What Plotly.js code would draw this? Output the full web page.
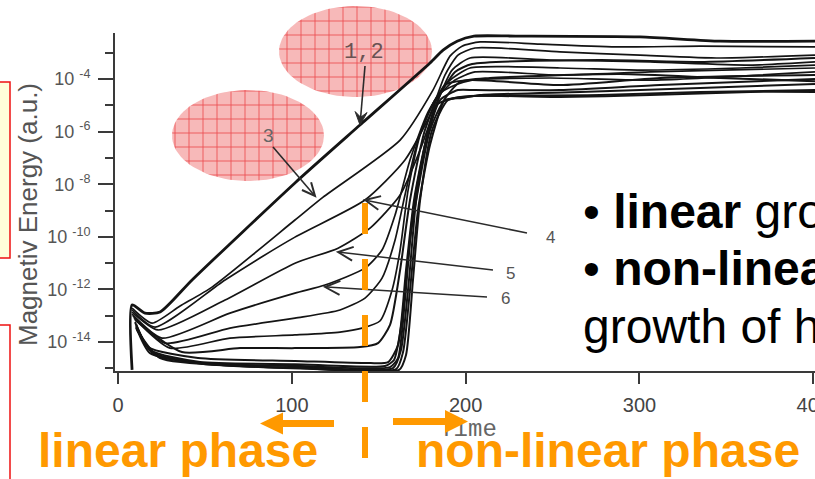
<!DOCTYPE html>
<html><head><meta charset="utf-8">
<script src="https://cdn.plot.ly/plotly-3.0.1.min.js"></script>
<style>html,body{margin:0;padding:0;background:#fff;overflow:hidden}#chart{width:815px;height:479px}</style>
</head><body><div id="chart"></div>
<script>
// ---------- DATA (time, log10 of magnetic energy) ----------
const seriesNames = ['1,2','3','4','5','6','7','8','9','10','11','12','13','14','15'];
const time01 = [8.1, 8.1, 15.5, 24.2, 42.6, 101.8, 139.2, 179.5, 187.0, 195.1, 204.8, 231.3, 300.3, 346.4, 401];
const logE01 = [-15.06, -12.59, -12.90, -12.86, -11.64, -7.95, -5.75, -3.39, -2.90, -2.56, -2.37, -2.37, -2.40, -2.56, -2.56];
const time02 = [8.1, 19.6, 35.7, 54.1, 101.8, 118.0, 162.3, 181.2, 191.0, 197.9, 208.3, 242.8, 288.8, 334.9, 401];
const logE02 = [-12.71, -13.28, -12.63, -11.91, -9.36, -8.49, -6.32, -4.42, -3.13, -2.75, -2.59, -2.67, -2.78, -2.75, -2.78];
const time03 = [8.1, 21.3, 61.6, 101.8, 142.1, 165.1, 179.5, 188.1, 195.6, 205.4, 254.3, 300.3, 346.4, 401];
const logE03 = [-12.78, -13.43, -11.64, -10.01, -8.60, -7.08, -5.37, -3.85, -3.09, -2.82, -2.97, -3.09, -3.20, -3.09];
const time04 = [8.1, 23.0, 61.6, 101.8, 126.6, 145.0, 162.3, 173.8, 184.1, 192.2, 202.5, 248.6, 306.1, 363.6, 401];
const logE04 = [-12.86, -13.54, -12.40, -11.00, -10.43, -9.67, -8.41, -6.70, -4.80, -3.66, -3.20, -3.28, -3.35, -3.47, -3.35];
const time05 = [8.1, 25.3, 64.4, 101.8, 119.1, 142.1, 151.9, 159.4, 168.0, 178.4, 189.9, 202.5, 254.3, 300.3, 357.9, 401];
const logE05 = [-12.94, -13.85, -12.90, -12.14, -11.83, -11.19, -10.50, -9.17, -7.08, -5.25, -4.11, -3.58, -3.58, -3.66, -3.58, -3.47];
const time06 = [8.6, 27.0, 64.4, 101.8, 127.7, 142.1, 151.9, 159.4, 165.1, 172.6, 182.4, 193.9, 205.4, 254.3, 306.1, 401];
const logE06 = [-13.01, -14.04, -13.47, -13.09, -12.78, -12.33, -11.57, -10.12, -8.41, -6.32, -4.80, -4.04, -3.73, -3.85, -3.73, -3.58];
const time07 = [9.2, 29.9, 64.4, 101.8, 127.7, 140.4, 150.7, 157.7, 162.3, 166.9, 173.8, 184.1, 193.9, 203.7, 248.6, 306.1, 401];
const logE07 = [-13.09, -14.23, -13.85, -13.73, -13.62, -13.47, -13.20, -12.02, -10.50, -8.22, -6.13, -4.61, -4.23, -4.04, -3.96, -4.04, -3.73];
const time08 = [9.8, 36.8, 70.2, 101.8, 139.2, 149.6, 156.5, 162.3, 168.0, 176.6, 188.1, 202.5, 254.3, 311.9, 401];
const logE08 = [-13.16, -14.38, -14.23, -14.23, -14.19, -14.04, -13.35, -11.26, -8.60, -5.94, -4.23, -4.04, -4.23, -3.96, -3.85];
const time09 = [9.8, 17.3, 46.0, 101.8, 145.0, 155.4, 161.1, 165.7, 170.3, 176.6, 185.3, 195.6, 205.4, 254.3, 311.9, 401];
const logE09 = [-13.24, -14.19, -14.61, -14.72, -14.80, -14.76, -14.11, -11.26, -8.60, -6.51, -4.80, -4.42, -4.42, -4.42, -4.23, -4.00];
const time10 = [10.4, 18.4, 47.2, 101.8, 153.6, 158.8, 163.4, 168.0, 172.6, 179.5, 188.1, 197.9, 208.3, 265.8, 334.9, 401];
const logE10 = [-13.32, -14.30, -14.76, -14.84, -14.91, -14.68, -13.16, -10.12, -8.22, -5.94, -4.80, -4.72, -4.61, -4.49, -4.34, -4.19];
const time11 = [10.4, 19.6, 50.1, 104.7, 156.5, 161.1, 165.1, 169.2, 174.9, 183.0, 193.9, 203.7, 277.3, 334.9, 401];
const logE11 = [-13.39, -14.38, -14.84, -14.91, -14.95, -14.61, -12.40, -9.36, -7.08, -4.99, -4.72, -4.65, -4.61, -4.49, -4.42];
const time12 = [10.4, 18.4, 47.2, 99.0, 158.2, 162.8, 167.4, 171.5, 177.2, 185.3, 193.9, 203.7, 277.3, 334.9, 401];
const logE12 = [-13.43, -14.42, -14.80, -14.91, -14.99, -14.30, -11.64, -8.60, -6.32, -4.61, -3.73, -3.43, -3.28, -3.35, -3.20];
const time13 = [10.4, 21.3, 58.7, 104.7, 160.0, 164.0, 168.0, 172.6, 179.5, 187.6, 196.8, 214.0, 288.8, 346.4, 401];
const logE13 = [-13.47, -14.49, -14.87, -14.99, -15.03, -14.38, -12.02, -8.98, -6.51, -4.80, -4.11, -3.96, -3.81, -3.96, -4.08];
const time14 = [10.9, 24.2, 70.2, 116.2, 161.7, 165.7, 169.7, 173.8, 180.7, 189.9, 201.4, 254.3, 306.1, 363.6, 401];
const logE14 = [-13.54, -14.61, -14.91, -15.03, -15.06, -14.49, -11.64, -8.60, -5.94, -4.80, -4.65, -4.68, -4.61, -4.49, -4.49];

const xTickVals = [0, 100, 200, 300, 400];
const xTickText = ['0', '100', '200', '300', '400'];
const yTickExps = [-14, -12, -10, -8, -6, -4];
const yMinorExps = [-15, -13, -11, -9, -7, -5, -3];

// ---------- BUILD ----------
const allTimes = [time01,time02,time03,time04,time05,time06,time07,time08,time09,time10,time11,time12,time13,time14];
const allLogE  = [logE01,logE02,logE03,logE04,logE05,logE06,logE07,logE08,logE09,logE10,logE11,logE12,logE13,logE14];

const traces = [];
// decorative hatched ellipses on a full-page overlay subplot (pixel-like coords)
function ellipse(cx, cy, rx, ry) {
  const xs = [], ys = [];
  for (let k = 0; k <= 90; k++) { const a = 2*Math.PI*k/90; xs.push(cx + rx*Math.cos(a)); ys.push(cy + ry*Math.sin(a)); }
  return {x: xs, y: ys, xaxis: 'x', yaxis: 'y', mode: 'lines', line: {width: 0}, fill: 'toself',
    fillcolor: '#f6b4b4',
    fillpattern: {shape: '+', size: 14, solidity: 0.12, fgcolor: '#e8282e', fgopacity: 0.75, bgcolor: '#f7b9b9'},
    hoverinfo: 'skip', showlegend: false};
}
traces.push(ellipse(355.5, 51.5, 76.5, 45.5));
traces.push(ellipse(248, 135.5, 76, 45.5));
traces.push({x: [468], y: [430], xaxis: 'x', yaxis: 'y', mode: 'text', text: ['Time'],
  textfont: {family: 'Liberation Mono, monospace', size: 24, color: '#666'}, hoverinfo: 'skip', showlegend: false});

allTimes.forEach((t, i) => {
  traces.push({
    x: t, y: allLogE[i].map(v => Math.pow(10, v)), name: 'mode ' + seriesNames[i],
    xaxis: 'x2', yaxis: 'y2', mode: 'lines',
    line: {color: '#141414', width: i === 0 ? 2.8 : (i >= 7 ? 2.0 : 1.7), shape: 'spline', smoothing: 0.6},
    hoverinfo: 'skip', showlegend: false
  });
});

// arrows as shapes
const shapes = [];
function arrow(tail, tip, hl, hw, color, width, filled) {
  const dx = tip[0]-tail[0], dy = tip[1]-tail[1], L = Math.hypot(dx, dy);
  const ux = dx/L, uy = dy/L, nx = -uy, ny = ux;
  const bx = tip[0]-ux*hl, by = tip[1]-uy*hl;
  const p1 = [bx+nx*hw, by+ny*hw], p2 = [bx-nx*hw, by-ny*hw];
  shapes.push({type: 'line', xref: 'x', yref: 'y', x0: tail[0], y0: tail[1], x1: tip[0]-ux*2, y1: tip[1]-uy*2,
    line: {color: color, width: width}});
  if (filled) {
    const q = [tip[0]-ux*hl*0.6, tip[1]-uy*hl*0.6];
    shapes.push({type: 'path', xref: 'x', yref: 'y', path: `M${p1[0]},${p1[1]}L${tip[0]},${tip[1]}L${p2[0]},${p2[1]}L${q[0]},${q[1]}Z`,
      fillcolor: color, line: {color: color, width: 1}});
  } else {
    shapes.push({type: 'path', xref: 'x', yref: 'y', path: `M${p1[0]},${p1[1]}L${tip[0]},${tip[1]}L${p2[0]},${p2[1]}`,
      line: {color: color, width: width + 0.4}});
  }
}
// left-edge boxes
shapes.push({type: 'rect', xref: 'x', yref: 'y', x0: -5, x1: 10, y0: 82, y1: 258, fillcolor: '#ffffd9', line: {color: '#ee1111', width: 1.5}, layer: 'below'});
shapes.push({type: 'rect', xref: 'x', yref: 'y', x0: -5, x1: 10, y0: 325, y1: 495, fillcolor: 'rgba(0,0,0,0)', line: {color: '#ee1111', width: 1.5}, layer: 'below'});
arrow([365, 66], [360, 125], 13, 6, '#2b2b2b', 1.6, true);
arrow([273, 147], [315, 196], 13, 6, '#2b2b2b', 1.6, false);
arrow([527, 233], [365, 200], 15, 7, '#2b2b2b', 1.5, false);
arrow([493, 270], [338, 252], 15, 7, '#2b2b2b', 1.5, false);
arrow([487, 297], [325, 287], 15, 7, '#2b2b2b', 1.5, false);
// orange dashed separator and phase arrows
const orange = '#ff9900';
shapes.push({type: 'line', xref: 'x', yref: 'y', x0: 365, x1: 365, y0: 203, y1: 460, line: {color: orange, width: 6, dash: '31px,25px'}});
shapes.push({type: 'path', xref: 'x', yref: 'y', path: 'M334,420L283,420L283,412.5L260,423.5L283,434.5L283,427L334,427Z', fillcolor: orange, line: {width: 0}});
shapes.push({type: 'path', xref: 'x', yref: 'y', path: 'M393,418L445,418L445,410L468,421.5L445,433L445,425L393,425Z', fillcolor: orange, line: {width: 0}});

const grey = '#555';
const ann = (o) => Object.assign({xref: 'x', yref: 'y', showarrow: false, xanchor: 'center', yanchor: 'middle'}, o);
const annotations = [
  ann({x: 28, y: 215, text: 'Magnetiv Energy (a.u.)', textangle: -90, font: {family: 'Liberation Sans, Arial', size: 26, color: grey}}),
  ann({x: 364, y: 52, text: '1,2', font: {family: 'Liberation Mono, monospace', size: 22, color: '#6a5252'}}),
  ann({x: 268, y: 135, text: '3', font: {family: 'Liberation Sans, Arial', size: 19, color: '#666'}}),
  ann({x: 550, y: 237, text: '4', font: {family: 'Liberation Sans, Arial', size: 17, color: grey}}),
  ann({x: 510, y: 273, text: '5', font: {family: 'Liberation Sans, Arial', size: 17, color: grey}}),
  ann({x: 505, y: 298, text: '6', font: {family: 'Liberation Sans, Arial', size: 17, color: grey}}),
  ann({x: 36, y: 450, xanchor: 'left', text: '<b>linear phase</b>', font: {family: 'Liberation Sans, Arial', size: 48, color: orange}}),
  ann({x: 414, y: 450, xanchor: 'left', text: '<b>non-linear phase</b>', font: {family: 'Liberation Sans, Arial', size: 48, color: orange}}),
  ann({x: 581, y: 211, xanchor: 'left', text: '• <b>linear</b> growth', font: {family: 'Liberation Sans, Arial', size: 48, color: '#000'}}),
  ann({x: 581, y: 268, xanchor: 'left', text: '• <b>non-linear</b>', font: {family: 'Liberation Sans, Arial', size: 48, color: '#000'}}),
  ann({x: 581, y: 326, xanchor: 'left', text: 'growth of higher modes', font: {family: 'Liberation Sans, Arial', size: 48, color: '#000'}})
];

const layout = {
  width: 815, height: 479, autosize: false,
  margin: {l: 0, r: 0, t: 0, b: 0, pad: 0},
  paper_bgcolor: '#ffffff', plot_bgcolor: 'rgba(0,0,0,0)', showlegend: false,
  xaxis: {domain: [0, 1], range: [0, 815], visible: false, fixedrange: true},
  yaxis: {domain: [0, 1], range: [479, 0], visible: false, fixedrange: true},
  xaxis2: {domain: [115/815, 1], anchor: 'y2', range: [-1.73, 401], showline: true, linecolor: '#3a3a3a', linewidth: 2,
    ticks: 'outside', ticklen: 11, tickwidth: 2, tickcolor: '#3a3a3a', tickmode: 'array', tickvals: xTickVals, ticktext: xTickText,
    tickfont: {family: 'Liberation Sans, Arial', size: 20, color: '#444'}, ticklabelstandoff: 4, ticklabeloverflow: 'allow',
    showgrid: false, zeroline: false},
  yaxis2: {domain: [108/479, 446/479], anchor: 'x2', type: 'log', range: [-15.10, -2.25], showline: true, linecolor: '#3a3a3a', linewidth: 2,
    ticks: 'outside', ticklen: 15, tickwidth: 2, tickcolor: '#3a3a3a', tickmode: 'array',
    tickvals: yTickExps.map(e => Math.pow(10, e)), ticktext: yTickExps.map(e => '10 <sup>' + e + '</sup>'),
    tickfont: {family: 'Liberation Sans, Arial', size: 18, color: grey}, ticklabelstandoff: 4,
    minor: {tickmode: 'array', tickvals: yMinorExps.map(e => Math.pow(10, e)), ticks: 'outside', ticklen: 8, tickwidth: 2, tickcolor: '#3a3a3a', showgrid: false},
    showgrid: false, zeroline: false},
  shapes: shapes, annotations: annotations
};
Plotly.newPlot('chart', traces, layout, {staticPlot: true, displayModeBar: false});
</script></body></html>
